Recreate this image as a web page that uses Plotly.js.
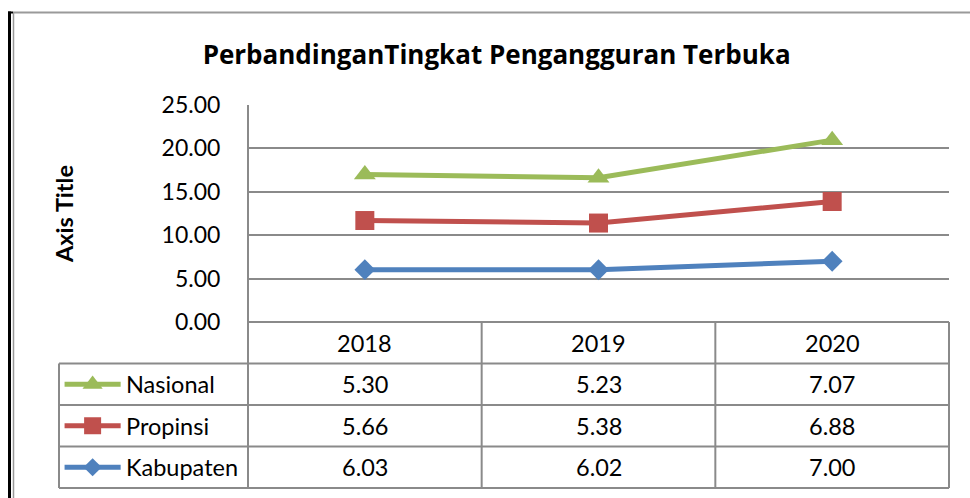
<!DOCTYPE html>
<html>
<head>
<meta charset="utf-8">
<script src="https://cdn.plot.ly/plotly-3.0.1.min.js"></script>
<style>
  html, body { margin: 0; padding: 0; background: #ffffff; }
  #chart { width: 970px; height: 498px; }
</style>
</head>
<body>
<div id="chart"></div>
<script>
// ---- data ----
const years = ['2018', '2019', '2020'];
const seriesNames = ['Nasional', 'Propinsi', 'Kabupaten'];
const nasional = [5.30, 5.23, 7.07];
const propinsi = [5.66, 5.38, 6.88];
const kabupaten = [6.03, 6.02, 7.00];
const yTickVals = [0, 5, 10, 15, 20, 25];
const yTickText = ['0.00', '5.00', '10.00', '15.00', '20.00', '25.00'];
const chartTitle = 'PerbandinganTingkat Pengangguran Terbuka';
const axisTitle = 'Axis Title';

// ---- styles ----
const colors = { Nasional: '#9BBB59', Propinsi: '#C0504D', Kabupaten: '#4F81BD' };
const symbols = { Nasional: 'triangle-up', Propinsi: 'square', Kabupaten: 'diamond' };
const msize = { Nasional: 19, Propinsi: 19, Kabupaten: 16 };
const lsize = { Nasional: 17.5, Propinsi: 17, Kabupaten: 14 };
const valuesByName = { Nasional: nasional, Propinsi: propinsi, Kabupaten: kabupaten };
const FONT = 'Lato, "Open Sans", sans-serif';
const TITLE_FONT = '"Open Sans", Lato, sans-serif';
const GRID = '#8a8a8a';

// layout geometry (pixels in a 970x498 page)
const W = 970, H = 498;
const M = { l: 10, r: 21, t: 105, b: 10 };
const PW = W - M.l - M.r, PH = H - M.t - M.b;
const px2x = p => (p - M.l) / PW;
const py2y = p => (H - M.b - p) / PH;

const plotLeft = 248, plotRight = 949, plotTop = 105, plotBottom = 322;
const tableLeft = 59, tableBottom = 488;
const colW = (plotRight - plotLeft) / years.length;
const x2left = -0.5 - (plotLeft - tableLeft) / colW;

// ---- traces: stacked line chart (Kabupaten bottom) ----
const stackOrder = ['Kabupaten', 'Propinsi', 'Nasional'];
const traces = stackOrder.map(n => ({
  type: 'scatter',
  mode: 'lines+markers',
  name: n,
  x: years,
  y: valuesByName[n],
  stackgroup: 'one',
  fill: 'none',
  line: { color: colors[n], width: 5 },
  marker: { color: colors[n], symbol: symbols[n], size: msize[n] },
  xaxis: 'x', yaxis: 'y',
  showlegend: false,
  hoverinfo: 'skip'
}));

// legend samples in the table's first column (rows 1..3 of the table axis)
seriesNames.forEach((n, i) => {
  traces.push({
    type: 'scatter', mode: 'lines', x: [-1.285, -1.045], y: [i + 1.5, i + 1.5],
    line: { color: colors[n], width: 5 }, xaxis: 'x2', yaxis: 'y2',
    showlegend: false, hoverinfo: 'skip', cliponaxis: false
  });
  traces.push({
    type: 'scatter', mode: 'markers', x: [-1.165], y: [i + 1.5],
    marker: { color: colors[n], symbol: symbols[n], size: lsize[n] },
    xaxis: 'x2', yaxis: 'y2', showlegend: false, hoverinfo: 'skip', cliponaxis: false
  });
});

// ---- table grid (shapes) ----
const shapes = [];
const line = (x0, y0, x1, y1, color, width) => shapes.push({
  type: 'line', xref: 'paper', yref: 'paper',
  x0: px2x(x0), y0: py2y(y0), x1: px2x(x1), y1: py2y(y1),
  line: { color: color || GRID, width: width || 2 }
});
const rowEdges = [322, 363.5, 405, 446.5, 488];
line(plotLeft, rowEdges[0], plotRight, rowEdges[0]);
for (let r = 1; r < rowEdges.length; r++) line(tableLeft, rowEdges[r], plotRight, rowEdges[r]);
line(tableLeft, rowEdges[1], tableLeft, tableBottom);
line(plotLeft, plotTop, plotLeft, tableBottom);
for (let c = 1; c <= years.length; c++) line(plotLeft + c * colW, rowEdges[0], plotLeft + c * colW, tableBottom);

// outer frame
shapes.push({ type: 'line', xref: 'paper', yref: 'paper', x0: px2x(13), y0: py2y(12.5), x1: px2x(972), y1: py2y(12.5), line: { color: '#9a9a9a', width: 2 } });
shapes.push({ type: 'line', xref: 'paper', yref: 'paper', x0: px2x(13.5), y0: py2y(12), x1: px2x(13.5), y1: py2y(500), line: { color: '#9a9a9a', width: 1.5 } });
shapes.push({ type: 'line', xref: 'paper', yref: 'paper', x0: px2x(9.5), y0: py2y(11.5), x1: px2x(9.5), y1: py2y(500), line: { color: '#000000', width: 3 } });
shapes.push({ type: 'line', xref: 'paper', yref: 'paper', x0: px2x(8), y0: py2y(12.5), x1: px2x(13), y1: py2y(12.5), line: { color: '#000000', width: 2 } });

// ---- table text (annotations) ----
const annotations = [];
const tf = { family: FONT, size: 23.5, color: '#000000' };
years.forEach((yr, i) => annotations.push({
  xref: 'x2', yref: 'y2', x: i, y: 0.5, text: yr, showarrow: false, font: tf, xanchor: 'center', yanchor: 'middle'
}));
seriesNames.forEach((n, r) => {
  annotations.push({
    xref: 'x2', yref: 'y2', x: -1.03, y: r + 1.5, text: n, showarrow: false, font: tf, xanchor: 'left', yanchor: 'middle'
  });
  valuesByName[n].forEach((v, i) => annotations.push({
    xref: 'x2', yref: 'y2', x: i, y: r + 1.5, text: v.toFixed(2), showarrow: false, font: tf, xanchor: 'center', yanchor: 'middle'
  }));
});
// y axis title
annotations.push({
  xref: 'paper', yref: 'paper', x: px2x(64), y: py2y(214), text: '<b>' + axisTitle + '</b>',
  textangle: -90, showarrow: false, font: { family: FONT, size: 23.5, color: '#000000' }, xanchor: 'center', yanchor: 'middle'
});

const layout = {
  width: W, height: H,
  margin: M,
  paper_bgcolor: '#ffffff', plot_bgcolor: 'rgba(0,0,0,0)',
  showlegend: false,
  title: {
    text: '<b>' + chartTitle + '</b>',
    x: 0.512, xref: 'container', xanchor: 'center',
    y: 1 - 55 / H, yref: 'container', yanchor: 'middle',
    font: { family: TITLE_FONT, size: 26, color: '#000000' }
  },
  xaxis: {
    domain: [px2x(plotLeft), px2x(plotRight)], anchor: 'y',
    type: 'category', range: [-0.5, years.length - 0.5],
    showticklabels: false, showgrid: false, zeroline: false, showline: false, ticks: ''
  },
  yaxis: {
    domain: [py2y(plotBottom), py2y(plotTop)], anchor: 'x',
    range: [0, 25], tickvals: yTickVals, ticktext: yTickText,
    showgrid: true, gridcolor: GRID, gridwidth: 2, zeroline: false, showline: false,
    ticks: 'outside', ticklen: 22, tickcolor: 'rgba(0,0,0,0)',
    tickfont: { family: FONT, size: 23, color: '#000000' }
  },
  xaxis2: {
    domain: [px2x(tableLeft), px2x(plotRight)], anchor: 'y2',
    range: [x2left, years.length - 0.5], visible: false, fixedrange: true
  },
  yaxis2: {
    domain: [0, py2y(plotBottom)], anchor: 'x2',
    range: [4, 0], visible: false, fixedrange: true
  },
  shapes: shapes,
  annotations: annotations
};

Plotly.newPlot('chart', traces, layout, { staticPlot: true, displayModeBar: false });
</script>
</body>
</html>
